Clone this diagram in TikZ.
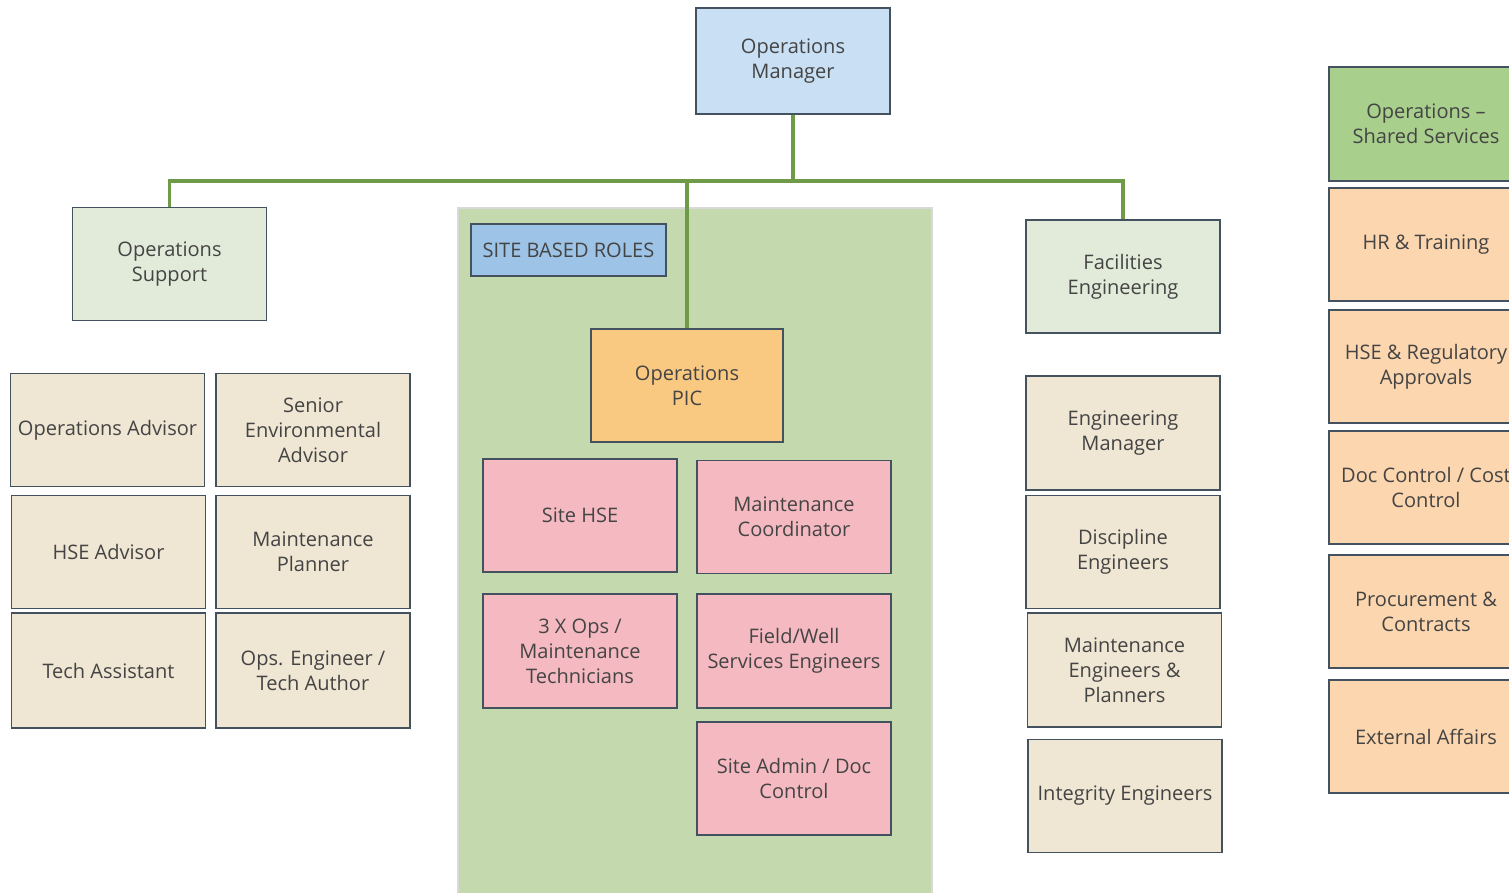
\documentclass[tikz,border=0pt]{standalone}
\usepackage{fontspec}
\setmainfont{Open Sans}
\definecolor{boxline}{HTML}{44525F}
\definecolor{txtgray}{HTML}{444444}
\definecolor{mgrblue}{HTML}{C8DFF4}
\definecolor{palegreen}{HTML}{E2EBD9}
\definecolor{beige}{HTML}{EFE6D3}
\definecolor{rolepink}{HTML}{F5BAC1}
\definecolor{picorange}{HTML}{F9C982}
\definecolor{peach}{HTML}{FCD6AE}
\definecolor{sharedgreen}{HTML}{A9CF8D}
\definecolor{sitegreen}{HTML}{C5D9AF}
\definecolor{rolesblue}{HTML}{9DC3E6}
\definecolor{linkgreen}{HTML}{6F9A48}
\begin{document}
\begin{tikzpicture}[x=0.02cm,y=-0.02cm,
    role/.style={draw=boxline,line width=0.8pt,align=center,text=txtgray,
      font=\fontsize{11.4}{14.3}\selectfont,inner sep=1pt,
      minimum width=3.88cm,minimum height=2.26cm},
    link/.style={draw=linkgreen,line width=2.2pt}]
    \clip (0,0) rectangle (1509,893);
    \useasboundingbox (0,0) rectangle (1509,893);

    % site area
    \fill[sitegreen,draw=black!15,line width=1.5pt] (458,208) rectangle (932,900);
    \node[role,fill=rolesblue,minimum width=3.9cm,minimum height=1.04cm] (siteroles) at (568.5,250) {SITE BASED ROLES};

    \node[role,fill=mgrblue,minimum height=2.12cm] (mgr) at (793,61) {Operations\\Manager};
    \node[role,fill=palegreen] (support) at (169.5,264) {Operations\\Support};
    \node[role,fill=picorange,minimum width=3.84cm] (pic) at (687,385.5) {Operations\\PIC};
    \node[role,fill=palegreen] (facilities) at (1123,276.5) {Facilities\\Engineering};

    % operations support
    \node[role,fill=beige] (advisor) at (107.5,430) {Operations Advisor};
    \node[role,fill=beige] (senenv) at (313,430) {Senior\\Environmental\\Advisor};
    \node[role,fill=beige] (hseadv) at (108.5,552) {HSE Advisor};
    \node[role,fill=beige] (planner) at (313,552) {Maintenance\\Planner};
    \node[role,fill=beige,minimum height=2.3cm] (techasst) at (108.5,670.5) {Tech Assistant};
    \node[role,fill=beige,minimum height=2.3cm] (opseng) at (313,670.5) {Ops. Engineer /\\Tech Author};

    % site roles
    \node[role,fill=rolepink] (sitehse) at (580,515.5) {Site HSE};
    \node[role,fill=rolepink] (maintco) at (794,517) {Maintenance\\Coordinator};
    \node[role,fill=rolepink,minimum height=2.28cm] (opstech) at (580,651) {3 X Ops /\\Maintenance\\Technicians};
    \node[role,fill=rolepink,minimum height=2.28cm] (fieldwell) at (794,651) {Field/Well\\Services Engineers};
    \node[role,fill=rolepink] (siteadmin) at (794,778.5) {Site Admin / Doc\\Control};

    % facilities engineering
    \node[role,fill=beige,minimum height=2.28cm] (engmgr) at (1123,433) {Engineering\\Manager};
    \node[role,fill=beige] (discipline) at (1123,552) {Discipline\\Engineers};
    \node[role,fill=beige,minimum height=2.28cm] (mainteng) at (1124.5,670) {Maintenance\\Engineers \&\\Planners};
    \node[role,fill=beige] (integrity) at (1125,796) {Integrity Engineers};

    % shared services
    \node[role,fill=sharedgreen,minimum height=2.28cm] (shared) at (1426,124) {Operations --\\Shared Services};
    \node[role,fill=peach] (hr) at (1426,244.5) {HR \& Training};
    \node[role,fill=peach] (hsereg) at (1426,366.5) {HSE \& Regulatory\\Approvals};
    \node[role,fill=peach] (doccost) at (1426,487.5) {Doc Control / Cost\\Control};
    \node[role,fill=peach] (procure) at (1426,611.5) {Procurement \&\\Contracts};
    \node[role,fill=peach] (external) at (1426,736.5) {External Affairs};

    \coordinate (bus) at (795,181);
    \draw[link] (mgr.south) -- (mgr.south |- bus) -| (support.north);
    \draw[link] (mgr.south) -- (mgr.south |- bus) -| (facilities.north);
    \draw[link] (mgr.south) -- (mgr.south |- bus) -| (pic.north);
  \end{tikzpicture}
\end{document}
